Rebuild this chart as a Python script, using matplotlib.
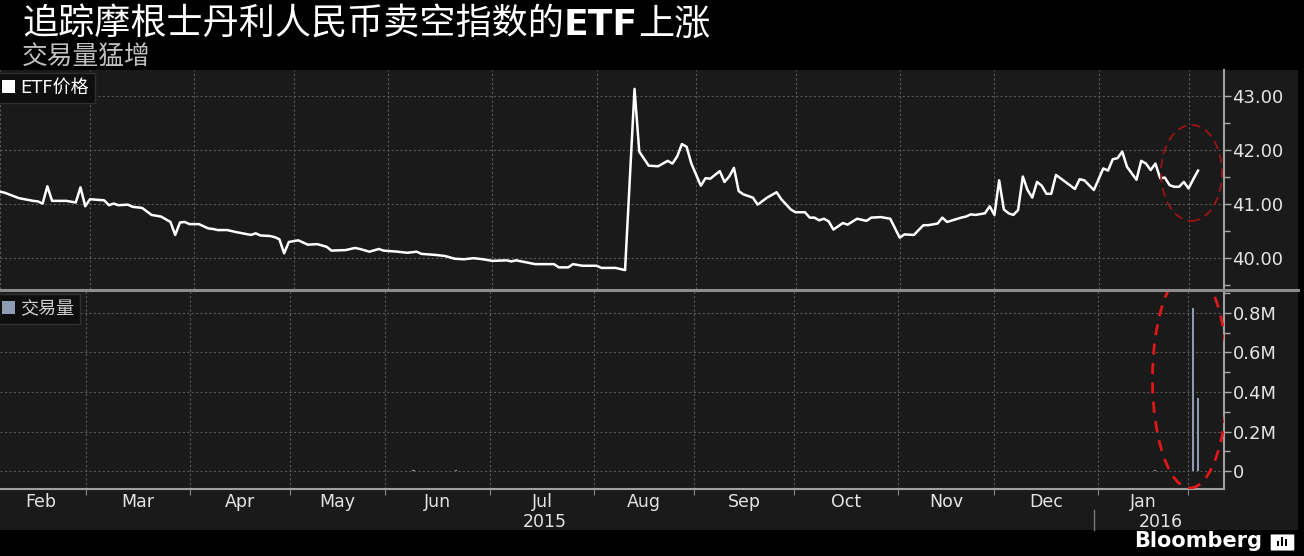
import matplotlib.pyplot as plt
import matplotlib.transforms as mtransforms
from matplotlib.patches import Ellipse, Patch, Rectangle, FancyBboxPatch
from matplotlib.lines import Line2D
from matplotlib.ticker import FixedLocator, FuncFormatter, MultipleLocator
import pandas as pd

plt.rcParams['font.family'] = ['DejaVu Sans', 'Noto Sans CJK SC']

# market holidays (the x axis only counts trading days)
holidays = ['2015-02-16', '2015-04-03', '2015-05-25', '2015-07-03', '2015-09-07',
            '2015-11-26', '2015-12-25', '2016-01-01', '2016-01-18']

price_dates = [
    '2015-02-02', '2015-02-03', '2015-02-06', '2015-02-11', '2015-02-12', '2015-02-13',
    '2015-02-17', '2015-02-18', '2015-02-23', '2015-02-25', '2015-02-26', '2015-02-27',
    '2015-03-02', '2015-03-05', '2015-03-06', '2015-03-09', '2015-03-10', '2015-03-12',
    '2015-03-13', '2015-03-17', '2015-03-19', '2015-03-23', '2015-03-25', '2015-03-26',
    '2015-03-27', '2015-03-30', '2015-03-31',
    '2015-04-02', '2015-04-07', '2015-04-08', '2015-04-09', '2015-04-13', '2015-04-15',
    '2015-04-20', '2015-04-21', '2015-04-22', '2015-04-24', '2015-04-27', '2015-04-28',
    '2015-04-29', '2015-04-30',
    '2015-05-04', '2015-05-06', '2015-05-08', '2015-05-12', '2015-05-13', '2015-05-18',
    '2015-05-20', '2015-05-21', '2015-05-26', '2015-05-28', '2015-05-29',
    '2015-06-03', '2015-06-05', '2015-06-09', '2015-06-10', '2015-06-15', '2015-06-17',
    '2015-06-19', '2015-06-23', '2015-06-25', '2015-06-29',
    '2015-07-01', '2015-07-07', '2015-07-08', '2015-07-09', '2015-07-15', '2015-07-21',
    '2015-07-22', '2015-07-24', '2015-07-27', '2015-07-29',
    '2015-08-03', '2015-08-04', '2015-08-07', '2015-08-11', '2015-08-13', '2015-08-14',
    '2015-08-18', '2015-08-20', '2015-08-24', '2015-08-25', '2015-08-26', '2015-08-27',
    '2015-08-28', '2015-08-31',
    '2015-09-02', '2015-09-03', '2015-09-04', '2015-09-09', '2015-09-10', '2015-09-11',
    '2015-09-14', '2015-09-15', '2015-09-16', '2015-09-18', '2015-09-21', '2015-09-23',
    '2015-09-25', '2015-09-28', '2015-09-30',
    '2015-10-01', '2015-10-05', '2015-10-06', '2015-10-07', '2015-10-08', '2015-10-09',
    '2015-10-12', '2015-10-13', '2015-10-15', '2015-10-16', '2015-10-20', '2015-10-22',
    '2015-10-23', '2015-10-27', '2015-10-29',
    '2015-11-02', '2015-11-03', '2015-11-05', '2015-11-09', '2015-11-10', '2015-11-12',
    '2015-11-13', '2015-11-16', '2015-11-19', '2015-11-20', '2015-11-23', '2015-11-24',
    '2015-11-27', '2015-11-30',
    '2015-12-01', '2015-12-02', '2015-12-03', '2015-12-04', '2015-12-07', '2015-12-08',
    '2015-12-09', '2015-12-10', '2015-12-11', '2015-12-14', '2015-12-15', '2015-12-16',
    '2015-12-17', '2015-12-18', '2015-12-22', '2015-12-24', '2015-12-28', '2015-12-29',
    '2015-12-31',
    '2016-01-05', '2016-01-06', '2016-01-07', '2016-01-08', '2016-01-11', '2016-01-12',
    '2016-01-14', '2016-01-15', '2016-01-19', '2016-01-20', '2016-01-21', '2016-01-22',
    '2016-01-25', '2016-01-26', '2016-01-27', '2016-01-28', '2016-01-29',
    '2016-02-01', '2016-02-02', '2016-02-03',
]
price_values = [
    41.23, 41.21, 41.11, 41.06, 41.05, 41.01,
    41.33, 41.06, 41.06, 41.03, 41.31, 40.96,
    41.09, 41.07, 40.98, 41.01, 40.98, 40.99,
    40.95, 40.93, 40.80, 40.77, 40.67, 40.43,
    40.66, 40.67, 40.63,
    40.63, 40.55, 40.54, 40.52, 40.52, 40.48,
    40.43, 40.46, 40.42, 40.41, 40.39, 40.35,
    40.09, 40.30,
    40.33, 40.25, 40.26, 40.21, 40.14, 40.15,
    40.19, 40.17, 40.12, 40.17, 40.14,
    40.12, 40.10, 40.12, 40.08, 40.06, 40.04,
    39.99, 39.98, 40.00, 39.98,
    39.95, 39.96, 39.94, 39.96, 39.89, 39.89,
    39.83, 39.83, 39.89, 39.86,
    39.86, 39.82, 39.82, 39.78, 43.13, 41.97,
    41.71, 41.70, 41.80, 41.75, 41.88, 42.11,
    42.06, 41.75,
    41.34, 41.48, 41.47, 41.61, 41.41, 41.51,
    41.67, 41.24, 41.18, 41.12, 40.99, 41.12,
    41.22, 41.09, 40.90,
    40.85, 40.85, 40.75, 40.75, 40.70, 40.73,
    40.68, 40.53, 40.65, 40.62, 40.73, 40.69,
    40.75, 40.76, 40.73,
    40.38, 40.44, 40.43, 40.61, 40.61, 40.64,
    40.75, 40.67, 40.75, 40.77, 40.81, 40.80,
    40.83, 40.96,
    40.80, 41.44, 40.90, 40.83, 40.80, 40.89,
    41.51, 41.26, 41.12, 41.41, 41.34, 41.19,
    41.19, 41.54, 41.41, 41.28, 41.46, 41.44,
    41.26,
    41.66, 41.62, 41.83, 41.85, 41.97, 41.69,
    41.45, 41.80, 41.75, 41.63, 41.75, 41.48,
    41.49, 41.35, 41.32, 41.32, 41.41,
    41.29, 41.46, 41.62,
]

volume_dates = ['2015-06-09', '2015-06-22', '2016-01-21', '2016-02-02', '2016-02-03']
volume_values = [4000, 5000, 6000, 824000, 368000]

title_a = '追踪摩根士丹利人民币卖空指数的'
title_b = 'ETF'
title_c = '上涨'
subtitle = '交易量猛增'
price_label = 'ETF价格'
volume_label = '交易量'

BG = '#1a1a1a'
GRID = '#585858'
TXT = '#e4e4e4'

days = pd.bdate_range('2015-02-02', '2016-02-03')
days = days[~days.isin(pd.to_datetime(holidays))]
px = days.get_indexer(pd.to_datetime(price_dates))
vx = days.get_indexer(pd.to_datetime(volume_dates))

months = days.to_period('M')
starts = [i for i in range(len(days)) if i == 0 or months[i] != months[i - 1]]
mids = [(a + b) / 2 for a, b in zip(starts[:-1], starts[1:])]
mid_labels = [days[a].strftime('%b') for a in starts[:-1]]
jan = [i for i in starts if days[i].year == 2016][0]

x0, x1 = 1.0, 258.5

fig = plt.figure(figsize=(13.04, 5.56), dpi=100, facecolor='black')
fig.patches.append(Rectangle((0, 26 / 556), 1298 / 1304, 460 / 556, transform=fig.transFigure,
                             facecolor=BG, edgecolor='none', zorder=-5))

ax1 = fig.add_axes([0, 0.4802, 0.9387, 0.3939], facecolor=BG)
ax2 = fig.add_axes([0, 0.1205, 0.9387, 0.3561], facecolor=BG)

# price panel
ax1.plot(px, price_values, color='white', lw=1.8, zorder=3)
ax1.set_xlim(x0, x1)
ax1.set_ylim(39.43, 43.48)
ax1.set_xticks(starts)
ax1.tick_params(axis='x', length=0, labelbottom=False)
ax1.yaxis.tick_right()
ax1.yaxis.set_major_locator(FixedLocator([40, 41, 42, 43]))
ax1.yaxis.set_minor_locator(FixedLocator([39.5, 40.5, 41.5, 42.5]))
ax1.yaxis.set_major_formatter(FuncFormatter(lambda v, p: f'{v:.2f}'))
ax1.tick_params(axis='y', which='major', length=5, width=1, color='#aaaaaa',
                labelcolor=TXT, labelsize=13, pad=1)
ax1.tick_params(axis='y', which='minor', length=4, width=1, color='#aaaaaa')
ax1.grid(True, which='major', color=GRID, linestyle=(0, (2, 2)), lw=0.8)
for s in ['top', 'left', 'bottom']:
    ax1.spines[s].set_visible(False)
ax1.spines['right'].set_color('#a0a0a0')
ax1.spines['right'].set_linewidth(1.5)

# volume panel
ax2.bar(vx, volume_values, width=0.45, color='#8d9cb3', zorder=3)
ax2.set_xlim(x0, x1)
ax2.set_ylim(-0.091e6, 0.911e6)
ax2.xaxis.set_major_locator(FixedLocator(starts))
ax2.xaxis.set_minor_locator(FixedLocator(mids))
ax2.xaxis.set_major_formatter(FuncFormatter(lambda v, p: ''))
ax2.xaxis.set_minor_formatter(FuncFormatter(lambda v, p: mid_labels[mids.index(v)] if v in mids else ''))
ax2.tick_params(axis='x', which='major', length=4, color='#888888')
ax2.tick_params(axis='x', which='minor', length=0, labelsize=12.5, labelcolor=TXT, pad=3)
ax2.yaxis.tick_right()
ax2.yaxis.set_major_locator(FixedLocator([0, 0.2e6, 0.4e6, 0.6e6, 0.8e6]))
ax2.yaxis.set_minor_locator(MultipleLocator(0.1e6))
ax2.yaxis.set_major_formatter(FuncFormatter(lambda v, p: '0' if abs(v) < 1 else f'{v / 1e6:.1f}M'))
ax2.tick_params(axis='y', which='major', length=5, width=1, color='#aaaaaa',
                labelcolor=TXT, labelsize=13, pad=1)
ax2.tick_params(axis='y', which='minor', length=4, width=1, color='#aaaaaa')
ax2.grid(True, which='major', color=GRID, linestyle=(0, (2, 2)), lw=0.8)
for s in ['top', 'left']:
    ax2.spines[s].set_visible(False)
for s in ['right', 'bottom']:
    ax2.spines[s].set_color('#a0a0a0')
    ax2.spines[s].set_linewidth(1.5)

# year labels below months
trans = mtransforms.blended_transform_factory(ax2.transData, ax2.transAxes)
ax2.text((x0 + jan) / 2 - 1, -0.165, '2015', transform=trans, ha='center', va='center',
         color=TXT, fontsize=12.5)
ax2.text((jan + x1) / 2, -0.165, '2016', transform=trans, ha='center', va='center',
         color=TXT, fontsize=12.5)
ax2.plot([jan - 0.8, jan - 0.8], [-0.105, -0.205], transform=trans, color='#777777', lw=1,
         clip_on=False)

# separator between panels
fig.lines.append(Line2D([0, 1298 / 1304], [1 - 290 / 556] * 2, transform=fig.transFigure,
                        color='#8c8c8c', lw=2.2, zorder=5))

# legends
leg_kw = dict(loc='upper left', bbox_to_anchor=(-0.003, 0.985), fancybox=False,
              facecolor='#0e0e0e', edgecolor='#303030', fontsize=13, framealpha=1,
              handlelength=0.7, handleheight=0.7, handletextpad=0.3,
              borderpad=0.32, borderaxespad=0)
ax1.legend(handles=[Patch(facecolor='white', label=price_label)], labelcolor='white', **leg_kw)
ax2.legend(handles=[Patch(facecolor='#8d9cb3', label=volume_label)], labelcolor='#d0d0d0', **leg_kw)

# red highlight ellipses
ax1.add_patch(Ellipse((0.9734, 0.530), 0.0498, 0.438, transform=ax1.transAxes, fill=False,
                      edgecolor='#9b1414', lw=1.3, linestyle=(0, (5, 3)), zorder=4))
ax2.add_patch(Ellipse((0.9722, 0.5556), 0.0613, 1.101, transform=ax2.transAxes, fill=False,
                      edgecolor='#e01818', lw=2, linestyle=(0, (4, 3)), zorder=4))

# title, with bold ETF
W = fig.bbox.width
ty = 1 - 35 / 556
t1 = fig.text(22 / 1304, ty, title_a, color='white', fontsize=26,
              family=['Noto Sans CJK SC'], va='baseline')
fig.canvas.draw()
r = fig.canvas.get_renderer()
t2 = fig.text(t1.get_window_extent(r).x1 / W, ty, title_b, color='white',
              fontsize=26, family=['DejaVu Sans'], weight='bold', va='baseline')
fig.canvas.draw()
fig.text(t2.get_window_extent(r).x1 / W, ty, title_c, color='white',
         fontsize=26, family=['Noto Sans CJK SC'], va='baseline')
fig.text(22 / 1304, 1 - 64 / 556, subtitle, color='#c0c0c0', fontsize=18.5,
         family=['Noto Sans CJK SC'], va='baseline')

# Bloomberg mark
fig.text(1262 / 1304, 1 - 541 / 556, 'Bloomberg', color='white', fontsize=15,
         weight='bold', ha='right', va='center')
fig.patches.append(FancyBboxPatch((1272 / 1304, 1 - 550 / 556), 21 / 1304, 15 / 556,
                                  boxstyle='round,pad=0.001', transform=fig.transFigure,
                                  facecolor='white', edgecolor='none'))
for i, h in enumerate([5, 9, 7]):
    fig.patches.append(Rectangle(((1277 + i * 4) / 1304, 1 - 546 / 556), 2 / 1304, h / 556,
                                 transform=fig.transFigure, facecolor='black', edgecolor='none'))

fig.savefig('out.png', dpi=100, facecolor='black')
